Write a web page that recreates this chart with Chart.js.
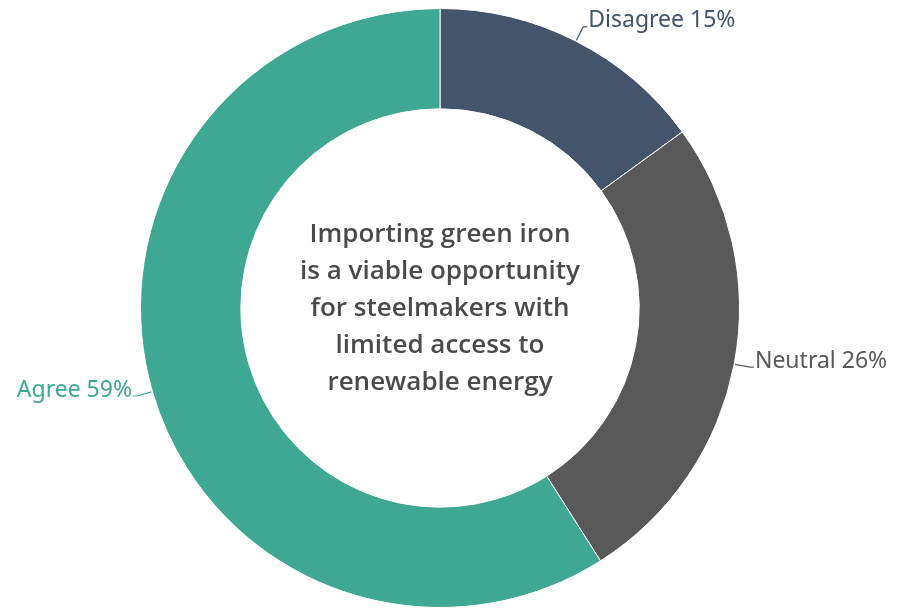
<!DOCTYPE html>
<html>
<head>
<meta charset="utf-8">
<script src="https://cdn.jsdelivr.net/npm/chart.js@4"></script>
<style>
  html, body { margin: 0; padding: 0; background: #fff; }
  #wrap { width: 897px; height: 608px; }
</style>
</head>
<body>
<div id="wrap"><canvas id="donut" width="897" height="608"></canvas></div>
<script>
const categories = ['Disagree', 'Neutral', 'Agree'];
const shares = [15, 26, 59];
const sliceColors = ['#43546b', '#595959', '#3ea892'];
const centerLines = [
    'Importing green iron',
    'is a viable opportunity',
    'for steelmakers with',
    'limited access to',
    'renewable energy'
];

// draws "Label NN%" next to each slice with a short leader line
const sliceLabels = {
    id: 'sliceLabels',
    afterDatasetsDraw(chart) {
        let ctx = chart.ctx;
        let arcs = chart.getDatasetMeta(0).data;
        ctx.save();
        ctx.font = '23px "Noto Sans"';
        ctx.textBaseline = 'middle';
        for(let i = 0; i < arcs.length; i++) {
            let arc = arcs[i];
            let mid = (arc.startAngle + arc.endAngle) / 2;
            let r = arc.outerRadius;
            let x0 = arc.x + Math.cos(mid) * (r + 1);
            let y0 = arc.y + Math.sin(mid) * (r + 1);
            let x1 = arc.x + Math.cos(mid) * (r + 16);
            let y1 = arc.y + Math.sin(mid) * (r + 16);
            let right = Math.cos(mid) >= 0;
            let x2 = x1 + (right ? 4 : -4);
            ctx.strokeStyle = sliceColors[i];
            ctx.lineWidth = 1.2;
            ctx.beginPath();
            ctx.moveTo(x0, y0);
            ctx.lineTo(x1, y1);
            ctx.lineTo(x2, y1);
            ctx.stroke();
            ctx.fillStyle = sliceColors[i];
            ctx.textAlign = right ? 'left' : 'right';
            ctx.fillText(categories[i] + ' ' + shares[i] + '%', x2 + (right ? 1 : -1), y1 - 6);
        }
        ctx.restore();
    }
};

const centerText = {
    id: 'centerText',
    afterDraw(chart) {
        let ctx = chart.ctx;
        let arc = chart.getDatasetMeta(0).data[0];
        ctx.save();
        ctx.font = '600 26px "Open Sans"';
        ctx.fillStyle = '#4a4a4a';
        ctx.textAlign = 'center';
        ctx.textBaseline = 'middle';
        let lineH = 37;
        let top = arc.y + 1 - lineH * (centerLines.length - 1) / 2;
        for(let i = 0; i < centerLines.length; i++) {
            ctx.fillText(centerLines[i], arc.x, top + i * lineH);
        }
        ctx.restore();
    }
};

new Chart(document.getElementById('donut'), {
    type: 'doughnut',
    data: {
        labels: categories,
        datasets: [{
            data: shares,
            backgroundColor: sliceColors,
            borderColor: '#ffffff',
            borderWidth: 1
        }]
    },
    options: {
        responsive: false,
        animation: false,
        cutout: '66.5%',
        layout: { padding: { top: 8, bottom: 0, left: 0, right: 17 } },
        plugins: {
            legend: { display: false },
            tooltip: { enabled: false }
        }
    },
    plugins: [sliceLabels, centerText]
});
</script>
</body>
</html>
